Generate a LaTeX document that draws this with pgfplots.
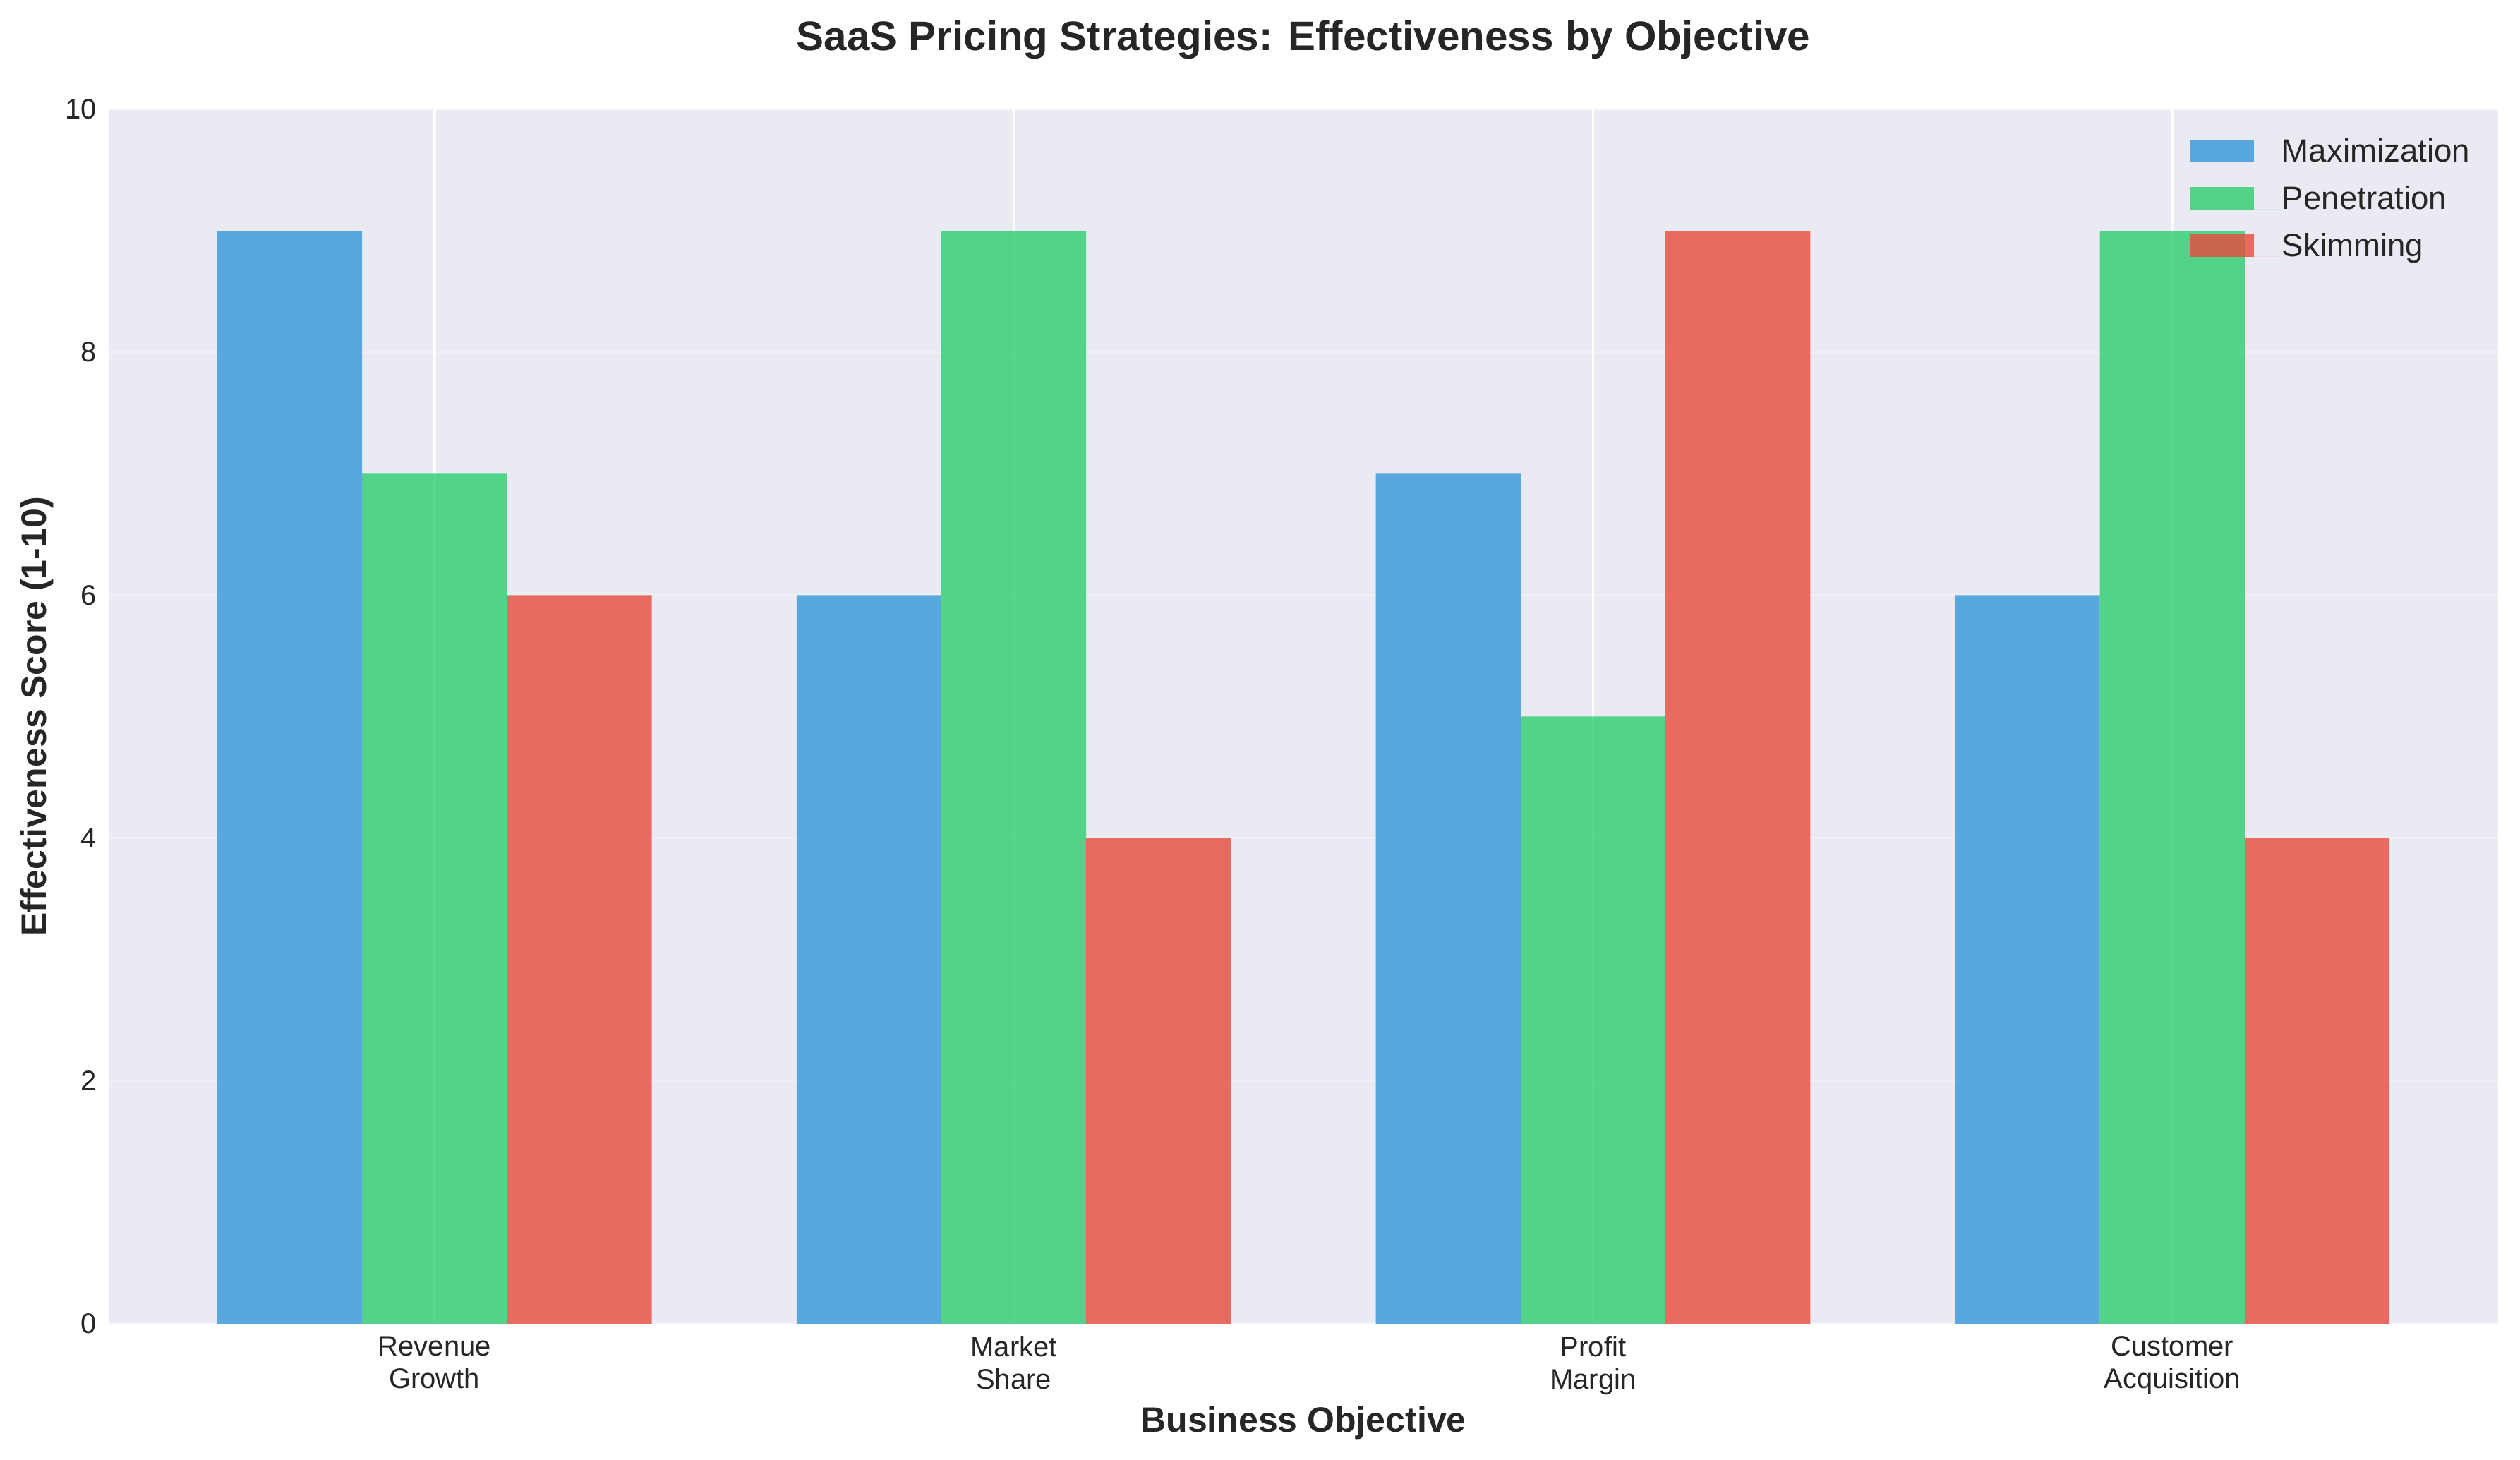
\documentclass[border=0pt]{standalone}
\usepackage{fontspec}
\setmainfont{Liberation Sans}
\usepackage{pgfplots}
\pgfplotsset{compat=1.18}
\definecolor{cmax}{HTML}{3498DB}
\definecolor{cpen}{HTML}{2ECC71}
\definecolor{cskim}{HTML}{E74C3C}
\definecolor{bgc}{HTML}{EAEAF2}
\definecolor{txt}{HTML}{262626}
\pgfplotsset{
  mylegend/.style={legend image code/.code={\fill[##1] (0bp,0bp) rectangle (22.5bp,8bp); \path (0bp,0bp) -- (32.5bp,0bp);}}
}
\begin{document}
\begin{tikzpicture}
\begin{axis}[
  name=ax,
  at={(0,0)}, anchor=south west,
  scale only axis,
  width=846.5bp, height=430.25bp,
  xmin=-0.5625, xmax=3.5625,
  ymin=0, ymax=10,
  ytick={0,2,4,6,8,10},
  xtick={0,1,2,3},
  xticklabels={{Revenue\\Growth},{Market\\Share},{Profit\\Margin},{Customer\\Acquisition}},
  axis background/.style={fill=bgc},
  axis line style={draw=none},
  major tick length=0pt,
  xmajorgrids, ymajorgrids,
  x grid style={white, line width=0.9bp},
  y grid style={white, line width=0.9bp, draw opacity=0.3},
  /pgf/number format/assume math mode=true,
  tick label style={color=txt},
  yticklabel style={anchor=east, inner sep=0pt, xshift=-4bp, font=\fontsize{10bp}{12bp}\selectfont},
  xticklabel style={anchor=north, inner sep=0pt, yshift=-4.25bp, align=center, font=\fontsize{10bp}{11.5bp}\selectfont},
  title={SaaS Pricing Strategies: Effectiveness by Objective},
  every axis title/.style={at={(axis description cs:0.5,1)}, anchor=base, yshift=20.75bp, inner sep=0pt, font=\bfseries\fontsize{14.6bp}{17bp}\selectfont, color=txt},
  xlabel={Business Objective},
  ylabel={Effectiveness Score (1-10)},
  every axis x label/.style={at={(axis description cs:0.5,0)}, anchor=base, yshift=-38.5bp, inner sep=0pt, font=\bfseries\fontsize{12.5bp}{15bp}\selectfont, color=txt},
  every axis y label/.style={at={(axis description cs:0,0.5)}, xshift=-22bp, rotate=90, anchor=base, inner sep=0pt, font=\bfseries\fontsize{12.5bp}{15bp}\selectfont, color=txt},
  legend style={at={(axis description cs:0.8712,0.975)}, anchor=north west, draw=none, fill=none, inner sep=0pt, outer sep=0pt, row sep=5.75bp, column sep=0pt, font=\fontsize{11.4bp}{13.7bp}\selectfont, text=txt, nodes={inner sep=0pt, text height=8bp, text depth=3bp, anchor=base west}},
  legend cell align=left,
  ybar, bar width=0.25,
]
\addplot[fill=cmax, fill opacity=0.8, draw=none, bar shift=-0.25, mylegend] coordinates {(0,9) (1,6) (2,7) (3,6)};
\addplot[fill=cpen, fill opacity=0.8, draw=none, bar shift=0, mylegend] coordinates {(0,7) (1,9) (2,5) (3,9)};
\addplot[fill=cskim, fill opacity=0.8, draw=none, bar shift=0.25, mylegend] coordinates {(0,6) (1,4) (2,9) (3,4)};
\legend{Maximization,Penetration,Skimming}
\end{axis}
\pgfresetboundingbox
\useasboundingbox ([xshift=-38.5bp,yshift=-48.25bp]ax.south west) rectangle ([xshift=7.75bp,yshift=38.75bp]ax.north east);
\end{tikzpicture}
\end{document}
